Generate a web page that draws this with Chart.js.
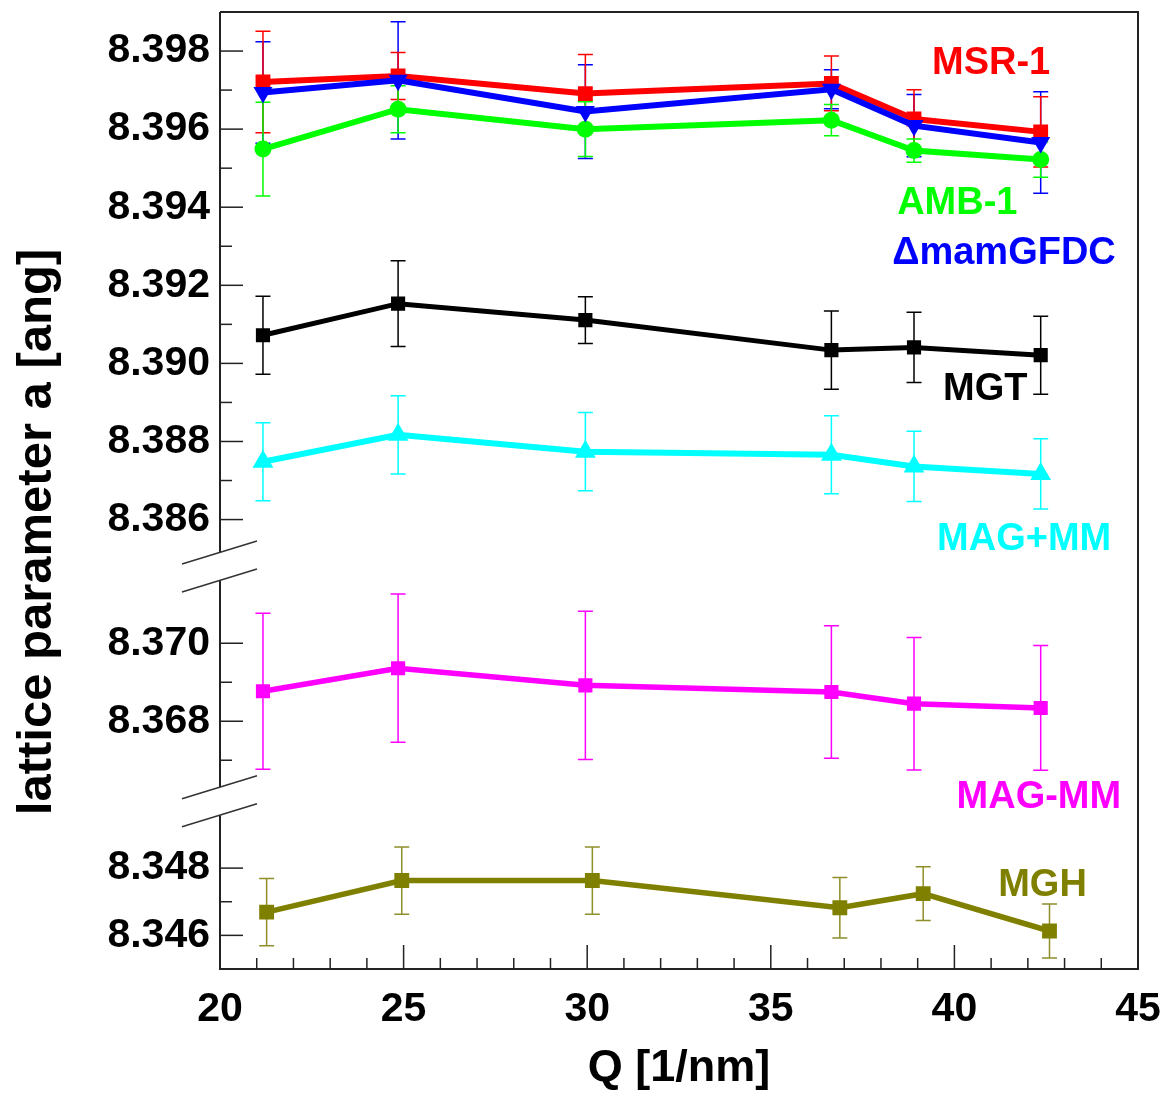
<!DOCTYPE html>
<html>
<head>
<title>Lattice parameter vs Q</title>
<script src="https://cdn.jsdelivr.net/npm/chart.js"></script>
<style>
  body { margin: 0; background: #fff; }
</style>
</head>
<body>
<canvas id="latticeChart" width="1168" height="1098"></canvas>
<script>
// Q positions of the measurements
const q = [21.17, 24.85, 29.95, 36.65, 38.9, 42.35];
const qMGH = [21.27, 24.95, 30.14, 36.88, 39.15, 42.59];

// lattice parameter a [ang] and its error, one pair of arrays per sample
const msr1 = [8.39721, 8.39736, 8.39691, 8.39717, 8.39626, 8.39593];
const msr1Err = [0.0013, 0.0006, 0.001, 0.0007, 0.00075, 0.0009];
const mamGFDC = [8.39694, 8.39725, 8.39645, 8.39702, 8.39609, 8.39566];
const mamGFDCErr = [0.0013, 0.0015, 0.0012, 0.0005, 0.0008, 0.0013];
const amb1 = [8.39549, 8.39651, 8.39600, 8.39623, 8.39545, 8.39522];
const amb1Err = [0.0012, 0.0006, 0.0007, 0.0004, 0.0003, 0.00045];
const mgt = [8.39072, 8.39153, 8.39111, 8.39034, 8.39041, 8.39021];
const mgtErr = [0.001, 0.0011, 0.0006, 0.001, 0.0009, 0.001];
const magPlusMM = [8.38748, 8.38817, 8.38774, 8.38766, 8.38736, 8.38717];
const magPlusMMErr = [0.001, 0.001, 0.001, 0.001, 0.0009, 0.0009];
const magMinusMM = [8.36877, 8.36936, 8.36892, 8.36875, 8.36845, 8.36834];
const magMinusMMErr = [0.002, 0.0019, 0.0019, 0.0017, 0.0017, 0.0016];
const mgh = [8.34669, 8.34763, 8.34763, 8.34682, 8.34724, 8.34613];
const mghErr = [0.001, 0.001, 0.001, 0.0009, 0.0008, 0.0008];

// the broken y axis: three stacked pieces
const topRange = [8.3848, 8.399];
const midRange = [8.36595, 8.37197];
const botRange = [8.345, 8.34999];

const FONT = "'Liberation Sans', Arial, sans-serif";

function pts(xs, ys) {
  return xs.map((x, i) => ({ x: x, y: ys[i] }));
}

function series(label, xs, ys, err, color, axis, style) {
  return Object.assign({
    label: label,
    data: pts(xs, ys),
    err: err,
    yAxisID: axis,
    borderColor: color,
    backgroundColor: color,
    borderWidth: 6,
    pointBorderWidth: 0,
    pointRadius: 10.5,
    pointStyle: 'rect',
    tension: 0
  }, style || {});
}

const datasets = [
  series('ΔmamGFDC', q, mamGFDC, mamGFDCErr, '#0000ff', 'yTop', { pointStyle: 'triangle', pointRotation: 180, pointRadius: 11 }),
  series('MSR-1', q, msr1, msr1Err, '#ff0000', 'yTop'),
  series('AMB-1', q, amb1, amb1Err, '#00ff00', 'yTop', { pointStyle: 'circle', pointRadius: 8.5 }),
  series('MGT', q, mgt, mgtErr, '#000000', 'yTop', { borderWidth: 5, pointRadius: 10 }),
  series('MAG+MM', q, magPlusMM, magPlusMMErr, '#00ffff', 'yTop', { pointStyle: 'triangle', pointRadius: 12 }),
  series('MAG-MM', q, magMinusMM, magMinusMMErr, '#ff00ff', 'yMid', { borderWidth: 5.5, pointRadius: 10 }),
  series('MGH', qMGH, mgh, mghErr, '#808000', 'yBot', { borderWidth: 5.5 })
];

// where each sample name is written, in axis units
const labelAnchors = {
  'MSR-1':    { q: 41.0,  a: 8.39769, axis: 'yTop' },
  'AMB-1':    { q: 40.08, a: 8.39409, axis: 'yTop' },
  'ΔmamGFDC': { q: 41.35, a: 8.39282, axis: 'yTop' },
  'MGT':      { q: 40.84, a: 8.38932, axis: 'yTop' },
  'MAG+MM':   { q: 41.9,  a: 8.38549, axis: 'yTop' },
  'MAG-MM':   { q: 42.3,  a: 8.36605, axis: 'yMid' },
  'MGH':      { q: 42.4,  a: 8.34748, axis: 'yBot' }
};

const isThousandth = v => Math.abs(v * 1000 - Math.round(v * 1000)) < 1e-6;
const isEvenThousandth = v => isThousandth(v) && Math.round(v * 1000) % 2 === 0;

function yScale(range, weight) {
  return {
    type: 'linear',
    position: 'left',
    stack: 'a',
    stackWeight: weight,
    min: range[0],
    max: range[1],
    grid: { display: false, drawTicks: false },
    border: { display: false },
    afterBuildTicks: s => { s.ticks = s.ticks.filter(t => isThousandth(t.value)); },
    afterFit: s => { s.width = 220; s.paddingTop = 0; s.paddingBottom = 0; },
    ticks: {
      stepSize: 0.001,
      autoSkip: false,
      padding: 10,
      color: '#000',
      font: { family: FONT, size: 41, weight: 'bold' },
      callback: v => isEvenThousandth(v) ? v.toFixed(3) : ''
    }
  };
}

const errorBars = {
  id: 'errorBars',
  beforeDatasetsDraw(chart) {
    const ctx = chart.ctx;
    const area = chart.chartArea;
    ctx.save();
    ctx.beginPath();
    ctx.rect(area.left, area.top, area.right - area.left, area.bottom - area.top);
    ctx.clip();
    ctx.lineWidth = 1.5;
    chart.data.datasets.forEach((ds, i) => {
      const meta = chart.getDatasetMeta(i);
      const ys = chart.scales[ds.yAxisID];
      ctx.strokeStyle = ds.borderColor === '#808000' ? '#8f8f2a' : ds.borderColor;
      meta.data.forEach((pt, j) => {
        const v = ds.data[j].y, e = ds.err[j];
        const hi = ys.getPixelForValue(v + e);
        const lo = ys.getPixelForValue(v - e);
        ctx.beginPath();
        ctx.moveTo(pt.x, hi); ctx.lineTo(pt.x, lo);
        ctx.moveTo(pt.x - 7.5, hi); ctx.lineTo(pt.x + 7.5, hi);
        ctx.moveTo(pt.x - 7.5, lo); ctx.lineTo(pt.x + 7.5, lo);
        ctx.stroke();
      });
    });
    ctx.restore();
  }
};

const frameAndText = {
  id: 'frameAndText',
  afterDraw(chart) {
    const ctx = chart.ctx;
    const { left, right, top, bottom } = chart.chartArea;
    const breaks = [chart.scales.yTop.bottom, chart.scales.yMid.bottom];
    const gap = 14;
    ctx.save();
    ctx.strokeStyle = '#222';
    ctx.lineWidth = 1.5;

    // inward ticks on the y pieces
    ['yTop', 'yMid', 'yBot'].forEach(id => {
      const s = chart.scales[id];
      s.ticks.forEach(t => {
        const y = s.getPixelForValue(t.value);
        if (y < top + 3 || y > bottom - 3) return;
        if (breaks.some(b => Math.abs(y - b) < gap + 2)) return;
        const len = isEvenThousandth(t.value) ? 23 : 12;
        ctx.beginPath(); ctx.moveTo(left, y); ctx.lineTo(left + len, y); ctx.stroke();
      });
    });

    // inward ticks on the Q axis
    const xs = chart.scales.x;
    xs.ticks.forEach(t => {
      const x = xs.getPixelForValue(t.value);
      if (x < left + 2 || x > right - 2) return;
      const len = t.value % 5 === 0 ? 24 : 11;
      ctx.beginPath(); ctx.moveTo(x, bottom); ctx.lineTo(x, bottom - len); ctx.stroke();
    });

    // frame, left side interrupted at the axis breaks
    ctx.lineWidth = 2;
    ctx.beginPath();
    ctx.moveTo(left, top); ctx.lineTo(right, top); ctx.lineTo(right, bottom); ctx.lineTo(left, bottom);
    ctx.lineTo(left, breaks[1] + gap);
    ctx.moveTo(left, breaks[1] - gap); ctx.lineTo(left, breaks[0] + gap);
    ctx.moveTo(left, breaks[0] - gap); ctx.lineTo(left, top);
    ctx.stroke();

    // break marks
    ctx.lineWidth = 1.5;
    ctx.strokeStyle = '#333';
    const slope = 23 / 75;
    breaks.forEach(b => {
      [-gap, gap].forEach(d => {
        const c = b + d;
        ctx.beginPath();
        ctx.moveTo(left - 38, c + 38 * slope);
        ctx.lineTo(left + 37, c - 37 * slope);
        ctx.stroke();
      });
    });

    // y axis title
    ctx.fillStyle = '#000';
    ctx.font = 'bold 49px ' + FONT;
    ctx.textAlign = 'center';
    ctx.textBaseline = 'middle';
    ctx.translate(37, 532);
    ctx.rotate(-Math.PI / 2);
    ctx.fillText('lattice parameter a [ang]', 0, 0);
    ctx.restore();

    // sample names
    ctx.save();
    ctx.font = 'bold 38px ' + FONT;
    ctx.textAlign = 'center';
    ctx.textBaseline = 'middle';
    chart.data.datasets.forEach(ds => {
      const a = labelAnchors[ds.label];
      ctx.fillStyle = ds.borderColor;
      ctx.fillText(ds.label, xs.getPixelForValue(a.q), chart.scales[a.axis].getPixelForValue(a.a));
    });
    ctx.restore();
  }
};

new Chart(document.getElementById('latticeChart').getContext('2d'), {
  type: 'line',
  data: { datasets: datasets },
  options: {
    responsive: false,
    devicePixelRatio: 1,
    animation: false,
    layout: { padding: { top: 11, right: 30, left: 0, bottom: 0 } },
    plugins: { legend: { display: false }, tooltip: { enabled: false } },
    scales: {
      x: {
        type: 'linear',
        position: 'bottom',
        min: 20,
        max: 45,
        grid: { display: false, drawTicks: false },
        border: { display: false },
        afterFit: s => { s.height = 129; s.paddingLeft = 0; s.paddingRight = 0; },
        ticks: {
          stepSize: 1,
          autoSkip: false,
          maxRotation: 0,
          padding: 16,
          color: '#000',
          font: { family: FONT, size: 41, weight: 'bold' },
          callback: v => v % 5 === 0 ? String(v) : ''
        },
        title: {
          display: true,
          text: 'Q [1/nm]',
          color: '#000',
          font: { family: FONT, size: 45, weight: 'bold' },
          padding: { top: 0, bottom: 2 }
        }
      },
      // stacked left axes are laid out from the last one defined downwards
      yBot: yScale(botRange, 168),
      yMid: yScale(midRange, 235),
      yTop: yScale(topRange, 555)
    }
  },
  plugins: [errorBars, frameAndText]
});
</script>
</body>
</html>
